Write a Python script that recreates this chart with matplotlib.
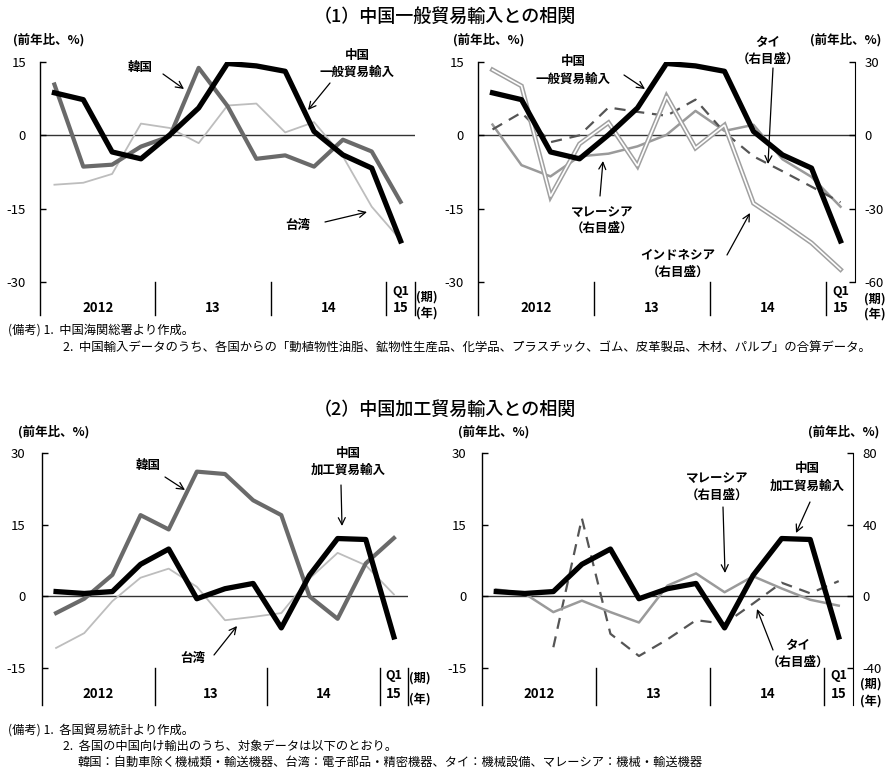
import numpy as np
import matplotlib
matplotlib.use("Agg")
import matplotlib.pyplot as plt

plt.rcParams['font.family'] = ['Noto Sans CJK JP', 'DejaVu Sans']
plt.rcParams['axes.unicode_minus'] = False

# ---------------- data ----------------
quarters = list(range(13))  # 2012Q1 .. 2015Q1
year_labels = ["2012", "13", "14"]

# (1) general trade
gen_china = [8.7, 7.3, -3.4, -4.8, 0.1, 5.6, 14.7, 14.2, 13.1, 0.8, -4.0, -6.7, -21.6]
gen_korea = [10.4, -6.4, -6.0, -2.3, -0.2, 13.8, 6.0, -4.8, -4.1, -6.4, -0.9, -3.3, -13.6]
gen_taiwan = [-10.1, -9.7, -7.9, 2.4, 1.5, -1.6, 6.1, 6.5, 0.6, 2.7, -4.3, -14.6, -21.4]
gen_indonesia = [26.8, 20.2, -25.0, -3.5, 5.2, -12.5, 16.0, -5.2, 4.2, -27.8, -35.7, -44.0, -54.9]
gen_malaysia = [4.4, -12.2, -16.8, -8.6, -7.5, -4.5, 0.2, 10.0, 1.8, 4.3, -9.8, -17.0, -29.2]
gen_thai = [2.4, 9.3, -2.8, 0.0, 11.4, 9.6, 8.0, 14.6, 1.2, -8.6, -14.7, -21.0, -27.4]

# (2) processing trade
proc_china = [1.0, 0.6, 1.0, 6.7, 9.9, -0.5, 1.6, 2.7, -6.6, 4.4, 12.1, 11.9, -8.5]
proc_korea = [-3.5, -0.5, 4.5, 17.0, 14.0, 26.1, 25.6, 20.1, 17.0, 0.0, -4.7, 6.9, 12.2]
proc_taiwan = [-10.8, -7.7, -1.0, 3.9, 5.8, 2.0, -5.0, -4.3, -3.5, 3.7, 9.1, 6.5, 0.4]
proc_malaysia = [3.9, 1.5, -8.8, -2.4, -8.8, -14.6, 6.0, 12.8, 2.3, 11.2, 4.4, -1.9, -5.2]
proc_thai = [np.nan, np.nan, -28.4, 43.5, -20.9, -33.3, -24.0, -13.3, -15.3, -4.0, 7.6, 1.7, 8.5]

W, H = 890, 771
fig = plt.figure(figsize=(W / 100, H / 100), dpi=100)

def fx(x):
    return x / W

def fy(y):
    return 1 - y / H

def px_axes(x0, x1, ytop, ybot):
    return fig.add_axes([fx(x0), fy(ybot), (x1 - x0) / W, (ybot - ytop) / H])

def ftext(x, y, s, size=9, weight='bold', ha='left', va='center', **kw):
    fig.text(fx(x), fy(y), s, fontsize=size, fontweight=weight, ha=ha, va=va, **kw)

def arrow(x0, y0, x1, y1):
    fig.add_artist(matplotlib.patches.FancyArrowPatch(
        (fx(x0), fy(y0)), (fx(x1), fy(y1)), transform=fig.transFigure,
        arrowstyle='->,head_length=5,head_width=2.5', lw=0.9, color='black',
        shrinkA=0, shrinkB=0))

BLACK = '#000000'
KOREA = '#6a6a6a'
TAIWAN = '#bdbdbd'
MALAY = '#9a9a9a'
THAI = '#555555'

def setup(ax, ymin, ymax, yticks, ybot, pad, y_q1, y_15, y_ki, y_nen, right_div=True, ki_x=12.55):
    ax.set_xlim(-0.5, 12.5)
    ax.set_ylim(ybot, ymax)
    ax.set_yticks(yticks)
    ax.set_yticklabels([str(t) for t in yticks])
    ax.set_xticks([])
    for s in ['top', 'right', 'bottom']:
        ax.spines[s].set_visible(False)
    ax.spines['left'].set_linewidth(1.0)
    ax.tick_params(axis='y', direction='in', length=4, width=1, pad=pad, labelsize=9.5)
    ax.axhline(0, color='#333333', lw=1.0, zorder=1)
    divs = [3.5, 7.5, 11.5] + ([12.5] if right_div else [])
    for d in divs:
        ax.plot([d, d], [ymin, ybot], color='black', lw=1.0, clip_on=False)
    for i, lab in enumerate(year_labels):
        ax.text(1.5 + 4 * i, y_15, lab, ha='center', va='center', fontsize=9.5, fontweight='bold')
    ax.text(12, y_q1, 'Q1', ha='center', va='center', fontsize=9, fontweight='bold')
    ax.text(12, y_15, '15', ha='center', va='center', fontsize=9.5, fontweight='bold')
    ax.text(ki_x, y_ki, '(期)', ha='left', va='center', fontsize=8.8, fontweight='bold')
    ax.text(ki_x, y_nen, '(年)', ha='left', va='center', fontsize=8.8, fontweight='bold')

# ---------------- (1) ----------------
ftext(445, 17, '（1）中国一般貿易輸入との相関', size=13, weight='medium', ha='center')

TOP_YB = -36.75
ax1 = px_axes(40, 415, 62, 315)
setup(ax1, -30, 15, [15, 0, -15, -30], TOP_YB, 10, -32.0, -35.3, -33.1, -36.3)
ax1.plot(quarters, gen_taiwan, color=TAIWAN, lw=1.3, zorder=3)
ax1.plot(quarters, gen_korea, color=KOREA, lw=3.0, zorder=4)
ax1.plot(quarters, gen_china, color=BLACK, lw=3.8, zorder=5)
ftext(13, 40, '(前年比、%)', size=9)

ax2 = px_axes(478, 855, 62, 315)
setup(ax2, -30, 15, [15, 0, -15, -30], TOP_YB, 10, -32.0, -35.3, -33.4, -36.5,
      right_div=False, ki_x=12.8)
ax2r = ax2.twinx()
ax2r.set_xlim(-0.5, 12.5)
ax2r.set_ylim(TOP_YB * 2, 30)
ax2r.set_yticks([30, 0, -30, -60])
ax2r.set_yticklabels(['30', '0', '-30', '-60'])
for s in ['top', 'left', 'bottom']:
    ax2r.spines[s].set_visible(False)
ax2r.spines['right'].set_bounds(-60, 30)
ax2r.tick_params(axis='y', direction='in', length=4, width=1, pad=7, labelsize=9.5)
ax2r.plot(quarters, gen_malaysia, color=MALAY, lw=1.8, zorder=3)
ax2r.plot(quarters, gen_thai, color=THAI, lw=1.6, ls=(0, (5, 3.5)), zorder=3)
ax2r.plot(quarters, gen_indonesia, color='#a0a0a0', lw=3.4, zorder=4, solid_joinstyle='miter')
ax2r.plot(quarters, gen_indonesia, color='white', lw=1.2, zorder=4.5, solid_joinstyle='miter')
ax2r.plot([q for q in quarters], [v * 2 for v in gen_china], color=BLACK, lw=3.8, zorder=5)
ftext(453, 40, '(前年比、%)', size=9)
ftext(810, 40, '(前年比、%)', size=9)

# annotations (1) left
ftext(140, 67, '韓国', ha='center')
arrow(163, 74, 184, 89)
ftext(357, 55, '中国', ha='center')
ftext(357, 72, '一般貿易輸入', ha='center')
arrow(330, 83, 308, 110)
ftext(298, 225, '台湾', ha='center')
arrow(325, 222, 367, 212)

# annotations (1) right
ftext(573, 62, '中国', ha='center')
ftext(573, 79, '一般貿易輸入', ha='center')
arrow(624, 75, 645, 89)
ftext(768, 42, 'タイ', ha='center')
ftext(768, 59, '（右目盛）', ha='center')
arrow(773, 68, 768, 164)
ftext(602, 212, 'マレーシア', ha='center')
ftext(602, 228, '（右目盛）', ha='center')
arrow(600, 196, 603, 161)
ftext(678, 255, 'インドネシア', ha='center')
ftext(678, 272, '（右目盛）', ha='center')
arrow(727, 255, 750, 213)

# notes (1)
ftext(8, 330, '(備考) 1.  中国海関総署より作成。', size=8.8, weight='normal')
ftext(63, 348, '2.  中国輸入データのうち、各国からの「動植物性油脂、鉱物性生産品、化学品、プラスチック、ゴム、皮革製品、木材、パルプ」の合算データ。',
      size=8.95, weight='normal')

# ---------------- (2) ----------------
ftext(445, 410, '（2）中国加工貿易輸入との相関', size=13, weight='medium', ha='center')

BOT_YB = -22.74
ax3 = px_axes(42, 408, 453, 705)
setup(ax3, -15, 30, [30, 15, 0, -15], BOT_YB, 12, -16.6, -20.4, -17.1, -21.5)
ax3.plot(quarters, proc_taiwan, color=TAIWAN, lw=1.3, zorder=3)
ax3.plot(quarters, proc_korea, color=KOREA, lw=3.0, zorder=4)
ax3.plot(quarters, proc_china, color=BLACK, lw=3.8, zorder=5)
ftext(18, 432, '(前年比、%)', size=9)

ax4 = px_axes(482, 853, 453, 705)
setup(ax4, -15, 30, [30, 15, 0, -15], BOT_YB, 11, -16.6, -20.4, -18.4, -22.0,
      right_div=False, ki_x=12.75)
ax4r = ax4.twinx()
ax4r.set_xlim(-0.5, 12.5)
ax4r.set_ylim(BOT_YB * 8 / 3, 80)
ax4r.set_yticks([80, 40, 0, -40])
ax4r.set_yticklabels(['80', '40', '0', '-40'])
for s in ['top', 'left', 'bottom']:
    ax4r.spines[s].set_visible(False)
ax4r.tick_params(axis='y', direction='in', length=4, width=1, pad=7, labelsize=9.5)
ax4r.plot(quarters, proc_thai, color=THAI, lw=1.6, ls=(0, (5, 3.5)), zorder=3)
ax4r.plot(quarters, proc_malaysia, color=MALAY, lw=1.8, zorder=3)
ax4r.plot(quarters, [v * 8 / 3 for v in proc_china], color=BLACK, lw=3.8, zorder=5)
ftext(458, 432, '(前年比、%)', size=9)
ftext(808, 432, '(前年比、%)', size=9)

# annotations (2) left
ftext(148, 465, '韓国', ha='center')
arrow(165, 477, 185, 490)
ftext(348, 453, '中国', ha='center')
ftext(348, 470, '加工貿易輸入', ha='center')
arrow(341, 485, 342, 526)
ftext(193, 658, '台湾', ha='center')
arrow(214, 655, 237, 626)

# annotations (2) right
ftext(717, 478, 'マレーシア', ha='center')
ftext(717, 495, '（右目盛）', ha='center')
arrow(723, 507, 725, 573)
ftext(807, 469, '中国', ha='center')
ftext(807, 486, '加工貿易輸入', ha='center')
arrow(810, 502, 796, 533)
ftext(798, 645, 'タイ', ha='center')
ftext(798, 662, '（右目盛）', ha='center')
arrow(773, 650, 757, 609)

# notes (2)
ftext(8, 730, '(備考) 1.  各国貿易統計より作成。', size=8.8, weight='normal')
ftext(63, 746, '2.  各国の中国向け輸出のうち、対象データは以下のとおり。', size=8.8, weight='normal')
ftext(77, 762, '韓国：自動車除く機械類・輸送機器、台湾：電子部品・精密機器、タイ：機械設備、マレーシア：機械・輸送機器',
      size=8.8, weight='normal')

fig.savefig('out.png', dpi=100)
